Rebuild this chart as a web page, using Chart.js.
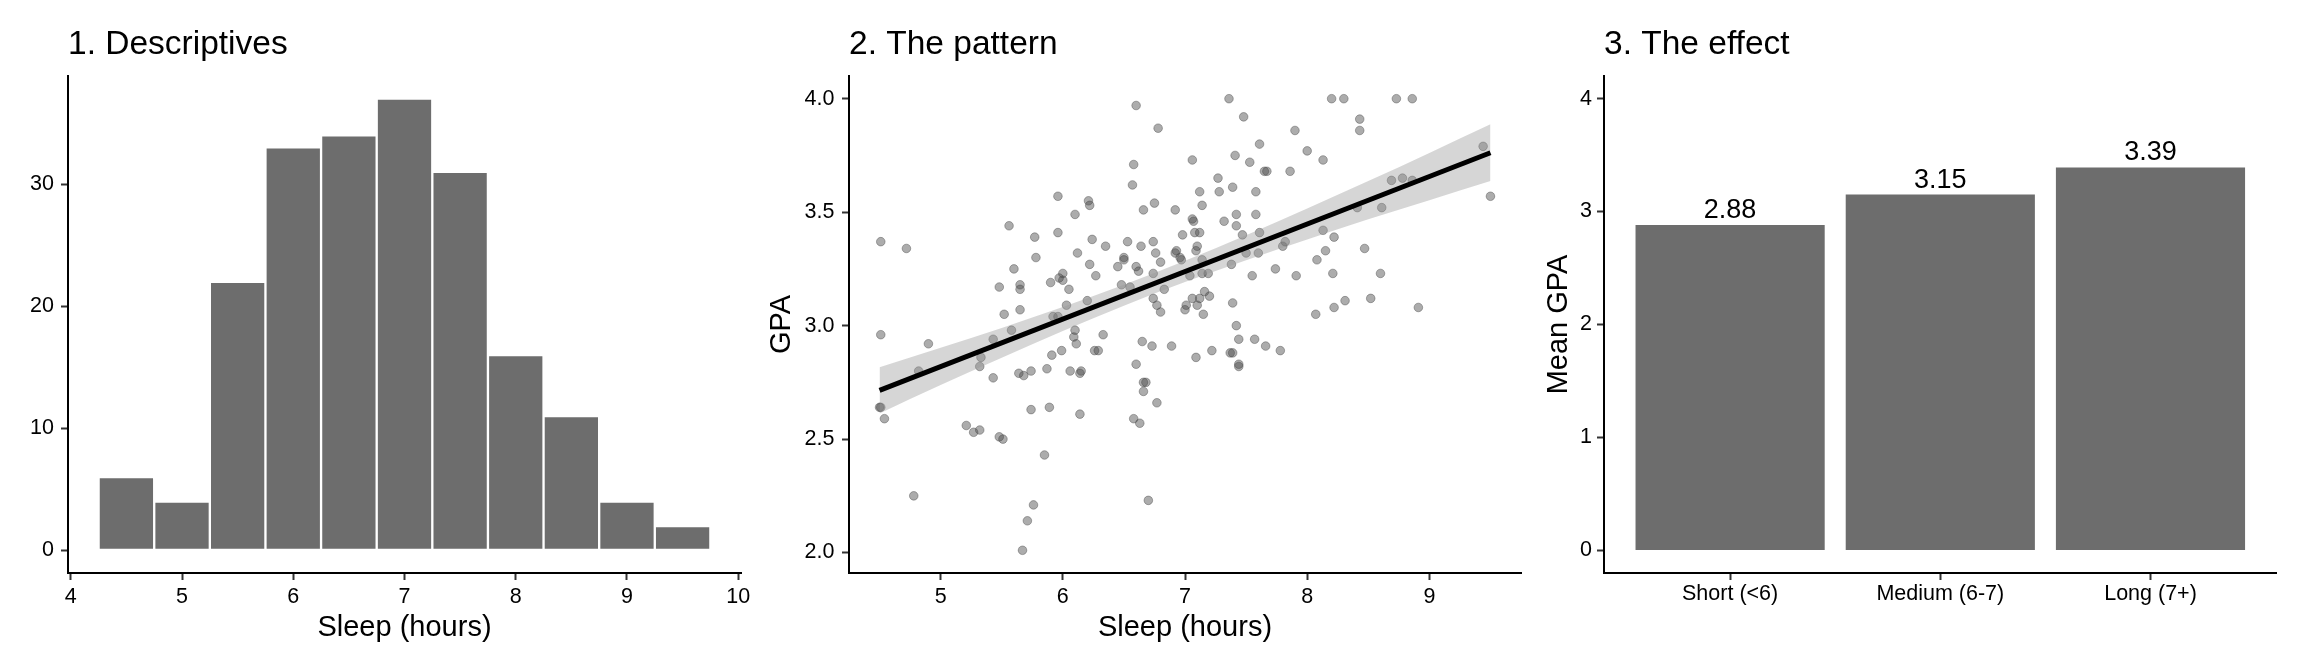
<!DOCTYPE html>
<html>
<head>
<meta charset="utf-8">
<script src="https://cdn.jsdelivr.net/npm/chart.js@4.4.1/dist/chart.umd.min.js"></script>
<style>
html,body{margin:0;padding:0;background:#fff;}
#wrap{position:relative;width:2304px;height:672px;overflow:hidden;background:#fff;}
#wrap canvas{position:absolute;top:0;}
</style>
</head>
<body>
<div id="wrap">
<canvas id="c1" width="768" height="672" style="left:0px"></canvas>
<canvas id="c2" width="768" height="672" style="left:768px"></canvas>
<canvas id="c3" width="768" height="672" style="left:1536px"></canvas>
</div>
<script>
// ---------- data ----------
const histBinCenters = [4.5, 5, 5.5, 6, 6.5, 7, 7.5, 8, 8.5, 9, 9.5];
const histCounts     = [6, 4, 22, 33, 34, 37, 31, 16, 11, 4, 2];

const sleepHours = [4.51,4.72,4.51,4.90,4.82,4.51,4.50,4.54,4.78,5.21,5.27,5.32,5.32,5.33,5.43,5.43,5.48,5.48,5.51,5.52,
5.56,5.58,5.60,5.65,5.65,5.65,5.64,5.68,5.74,5.74,5.77,5.78,5.85,5.76,5.71,5.67,5.87,5.89,5.91,5.90,
5.92,5.96,5.96,5.96,5.97,6.00,6.00,5.99,6.03,6.05,6.06,6.09,6.10,6.11,6.10,6.12,6.14,6.15,6.14,6.20,
6.21,6.22,6.22,6.24,6.27,6.26,6.29,6.33,6.35,6.45,6.48,6.50,6.50,6.53,6.55,6.57,6.58,6.60,6.60,6.62,
6.60,6.58,6.63,6.64,6.66,6.65,6.66,6.68,6.66,6.70,6.77,6.73,6.74,6.74,6.75,6.76,6.78,6.74,6.77,6.80,
6.80,6.83,6.89,6.92,6.93,6.92,6.96,6.97,6.98,7.00,7.01,7.04,7.06,7.06,7.06,7.07,7.08,7.09,7.10,7.10,
7.09,7.12,7.12,7.12,7.14,7.14,7.14,7.15,7.16,7.19,7.20,7.22,7.27,7.28,7.32,7.36,7.38,7.37,7.39,7.39,
7.39,7.41,7.42,7.42,7.42,7.44,7.44,7.44,7.47,7.48,7.50,7.53,7.55,7.58,7.58,7.57,7.60,7.61,7.61,7.65,
7.67,7.66,7.74,7.78,7.80,7.82,7.86,7.90,7.91,8.00,8.07,8.08,8.13,8.13,8.15,8.20,8.22,8.21,8.22,8.30,
8.31,8.41,8.43,8.43,8.47,8.52,8.60,8.61,8.69,8.73,8.78,8.86,8.86,8.91,9.44,9.50];

const gpaValues = [3.37,3.34,2.96,2.92,2.80,2.64,2.64,2.59,2.25,2.56,2.53,2.54,2.82,2.86,2.94,2.77,3.17,2.51,2.50,3.05,
3.44,2.98,3.25,3.18,3.16,3.07,2.79,2.78,2.80,2.63,3.39,3.30,2.43,2.21,2.14,2.01,2.81,2.64,2.87,3.19,
3.04,3.04,3.41,3.57,3.21,3.23,3.20,2.89,3.09,3.16,2.80,2.95,2.98,2.92,3.49,3.32,2.79,2.80,2.61,3.11,
3.55,3.53,3.27,3.38,3.22,2.89,2.89,2.96,3.35,3.26,3.18,3.30,3.29,3.37,3.17,3.62,3.71,3.97,3.26,3.24,
2.83,2.59,2.57,3.35,3.51,2.93,2.75,2.75,2.71,2.23,2.66,2.91,3.23,3.37,3.54,3.32,3.87,3.12,3.09,3.28,
3.06,3.16,2.91,3.32,3.33,3.51,3.30,3.29,3.40,3.07,3.09,3.22,3.12,3.73,3.47,3.46,3.41,3.33,3.35,3.09,
2.86,3.41,3.59,3.12,3.29,3.53,3.23,3.05,3.15,3.23,3.13,2.89,3.65,3.59,3.46,4.00,3.27,2.88,2.88,3.10,
3.61,3.75,3.44,3.49,3.00,2.94,2.83,2.82,3.40,3.92,3.32,3.72,3.22,3.49,3.59,2.94,3.32,3.41,3.80,3.68,
3.68,2.91,3.25,2.89,3.35,3.37,3.68,3.86,3.22,3.77,3.05,3.29,3.42,3.73,3.33,4.00,3.39,3.23,3.08,4.00,
3.11,3.52,3.91,3.86,3.34,3.12,3.23,3.52,3.64,4.00,3.65,4.00,3.64,3.08,3.79,3.57];

// fitted line (end points)
const fitSleep = [4.5, 9.5];
const fitGpa   = [2.715, 3.762];
// confidence band read at half-hour steps
const bandSleep = [4.5, 5, 5.5, 6, 6.5, 7, 7.5, 8, 8.5, 9, 9.5];
const bandLow   = [2.613, 2.738, 2.858, 2.976, 3.088, 3.192, 3.288, 3.380, 3.469, 3.553, 3.637];
const bandHigh  = [2.817, 2.902, 2.990, 3.082, 3.180, 3.286, 3.398, 3.516, 3.637, 3.761, 3.887];

const groupLabels = ['Short (<6)', 'Medium (6-7)', 'Long (7+)'];
const groupPos    = [1, 2, 3];
const groupMeans  = [2.88, 3.15, 3.39];

const panelTitles = ['1. Descriptives', '2. The pattern', '3. The effect'];

// ---------- styling ----------
const FONT = "'Liberation Sans', Arial, Helvetica, sans-serif";
Chart.defaults.font.family = FONT;
Chart.defaults.color = '#000';
Chart.defaults.animation = false;

const BAR_GREY = '#6d6d6d';
const TICK_SIZE = 21.5;
const AXIS_TITLE_SIZE = 29;

function titleOpts(text) {
  return {
    display: true, text: text, align: 'start', fullSize: false, color: '#000',
    font: {size: 33.5, weight: 'normal', lineHeight: 1.2},
    padding: {top: 24.5, bottom: 11.3}
  };
}
function axisBase() {
  return {
    grid: {display: true, offset: false, drawOnChartArea: false, drawTicks: true, tickLength: 7, tickWidth: 2, tickColor: '#333'},
    border: {display: true, color: '#000', width: 2}
  };
}
function xAxis(extra) {
  const a = axisBase();
  return Object.assign(a, {
    type: 'linear', position: 'bottom',
    afterFit(s) { s.height = 99; }
  }, extra);
}
function yAxis(width, extra) {
  const a = axisBase();
  return Object.assign(a, {
    type: 'linear', position: 'left',
    afterFit(s) { s.width = width; }
  }, extra);
}
const common = {
  responsive: false, maintainAspectRatio: false, devicePixelRatio: 1, events: [],
  animation: false
};

// ---------- Panel 1: histogram ----------
new Chart(document.getElementById('c1'), {
  type: 'bar',
  data: {
    datasets: [{
      data: histBinCenters.map((x, i) => ({x: x, y: histCounts[i]})),
      backgroundColor: BAR_GREY, borderColor: '#ffffff', borderWidth: 1.5, borderSkipped: false,
      barPercentage: 1, categoryPercentage: 1
    }]
  },
  options: Object.assign({}, common, {
    layout: {padding: {left: 0, right: 27, top: 0, bottom: 0}},
    plugins: {legend: {display: false}, tooltip: {enabled: false}, title: titleOpts(panelTitles[0])},
    scales: {
      x: xAxis({
        min: 3.975, max: 10.025, offset: false,
        ticks: {stepSize: 1, includeBounds: false, padding: 4.5, font: {size: TICK_SIZE}, color: '#000', maxRotation: 0, autoSkip: false},
        title: {display: true, text: 'Sleep (hours)', font: {size: AXIS_TITLE_SIZE}, color: '#000', padding: {top: 0, bottom: 27}}
      }),
      y: yAxis(68, {
        min: -1.85, max: 38.85,
        ticks: {stepSize: 10, includeBounds: false, padding: 7, font: {size: TICK_SIZE}, color: '#000'}
      })
    }
  })
});

// ---------- Panel 2: scatter + fit ----------
new Chart(document.getElementById('c2'), {
  type: 'scatter',
  data: {
    datasets: [
      {
        type: 'scatter', order: 3,
        data: sleepHours.map((x, i) => ({x: x, y: gpaValues[i]})),
        backgroundColor: 'rgba(70,70,70,0.45)', borderColor: 'rgba(70,70,70,0.42)',
        borderWidth: 1, pointRadius: 4.3
      },
      {
        type: 'line', order: 2,
        data: bandSleep.map((x, i) => ({x: x, y: bandLow[i]})),
        borderWidth: 0, borderColor: 'rgba(0,0,0,0)', pointRadius: 0, fill: false,
        cubicInterpolationMode: 'monotone'
      },
      {
        type: 'line', order: 1,
        data: bandSleep.map((x, i) => ({x: x, y: bandHigh[i]})),
        borderWidth: 0, borderColor: 'rgba(0,0,0,0)', pointRadius: 0,
        fill: '-1', backgroundColor: 'rgba(153,153,153,0.4)',
        cubicInterpolationMode: 'monotone'
      },
      {
        type: 'line', order: 0,
        data: fitSleep.map((x, i) => ({x: x, y: fitGpa[i]})),
        borderColor: '#000', borderWidth: 5, pointRadius: 0, fill: false, tension: 0,
        borderCapStyle: 'butt'
      }
    ]
  },
  options: Object.assign({}, common, {
    layout: {padding: {left: 0, right: 15, top: 0, bottom: 0}},
    plugins: {legend: {display: false}, tooltip: {enabled: false}, title: titleOpts(panelTitles[1])},
    scales: {
      x: xAxis({
        min: 4.25, max: 9.75,
        ticks: {stepSize: 1, includeBounds: false, padding: 4.5, font: {size: TICK_SIZE}, color: '#000', maxRotation: 0, autoSkip: false},
        title: {display: true, text: 'Sleep (hours)', font: {size: AXIS_TITLE_SIZE}, color: '#000', padding: {top: 0, bottom: 27}}
      }),
      y: yAxis(81, {
        min: 1.91, max: 4.10,
        ticks: {stepSize: 0.5, includeBounds: false, padding: 7.5, font: {size: TICK_SIZE}, color: '#000',
                callback: v => Number(v).toFixed(1)},
        title: {display: true, text: 'GPA', font: {size: AXIS_TITLE_SIZE, lineHeight: 1}, color: '#000', padding: {top: -0.5, bottom: 0}}
      })
    }
  })
});

// ---------- Panel 3: group means ----------
const barValueLabels = {
  id: 'barValueLabels',
  afterDatasetsDraw(chart) {
    const ctx = chart.ctx;
    const meta = chart.getDatasetMeta(0);
    ctx.save();
    ctx.font = '27px ' + FONT;
    ctx.fillStyle = '#000';
    ctx.textAlign = 'center';
    ctx.textBaseline = 'alphabetic';
    meta.data.forEach((bar, i) => {
      ctx.fillText(groupMeans[i].toFixed(2), bar.x, bar.y - 7);
    });
    ctx.restore();
  }
};
new Chart(document.getElementById('c3'), {
  type: 'bar',
  data: {
    datasets: [{
      data: groupPos.map((x, i) => ({x: x, y: groupMeans[i]})),
      backgroundColor: BAR_GREY, borderWidth: 0,
      barPercentage: 0.9, categoryPercentage: 1
    }]
  },
  options: Object.assign({}, common, {
    layout: {padding: {left: 0, right: 27.4, top: 0, bottom: 0}},
    plugins: {legend: {display: false}, tooltip: {enabled: false}, title: titleOpts(panelTitles[2])},
    scales: {
      x: xAxis({
        min: 0.4, max: 3.6, offset: false,
        ticks: {stepSize: 1, includeBounds: false, padding: 1, font: {size: 21.5}, color: '#000', maxRotation: 0, autoSkip: false,
                callback: v => groupLabels[groupPos.indexOf(v)] || ''},
      }),
      y: yAxis(68, {
        min: -0.2, max: 4.2,
        ticks: {stepSize: 1, includeBounds: false, padding: 5, font: {size: TICK_SIZE}, color: '#000'},
        title: {display: true, text: 'Mean GPA', font: {size: AXIS_TITLE_SIZE, lineHeight: 1}, color: '#000', padding: {top: 8.3, bottom: 0}}
      })
    }
  }),
  plugins: [barValueLabels]
});
</script>
</body>
</html>
